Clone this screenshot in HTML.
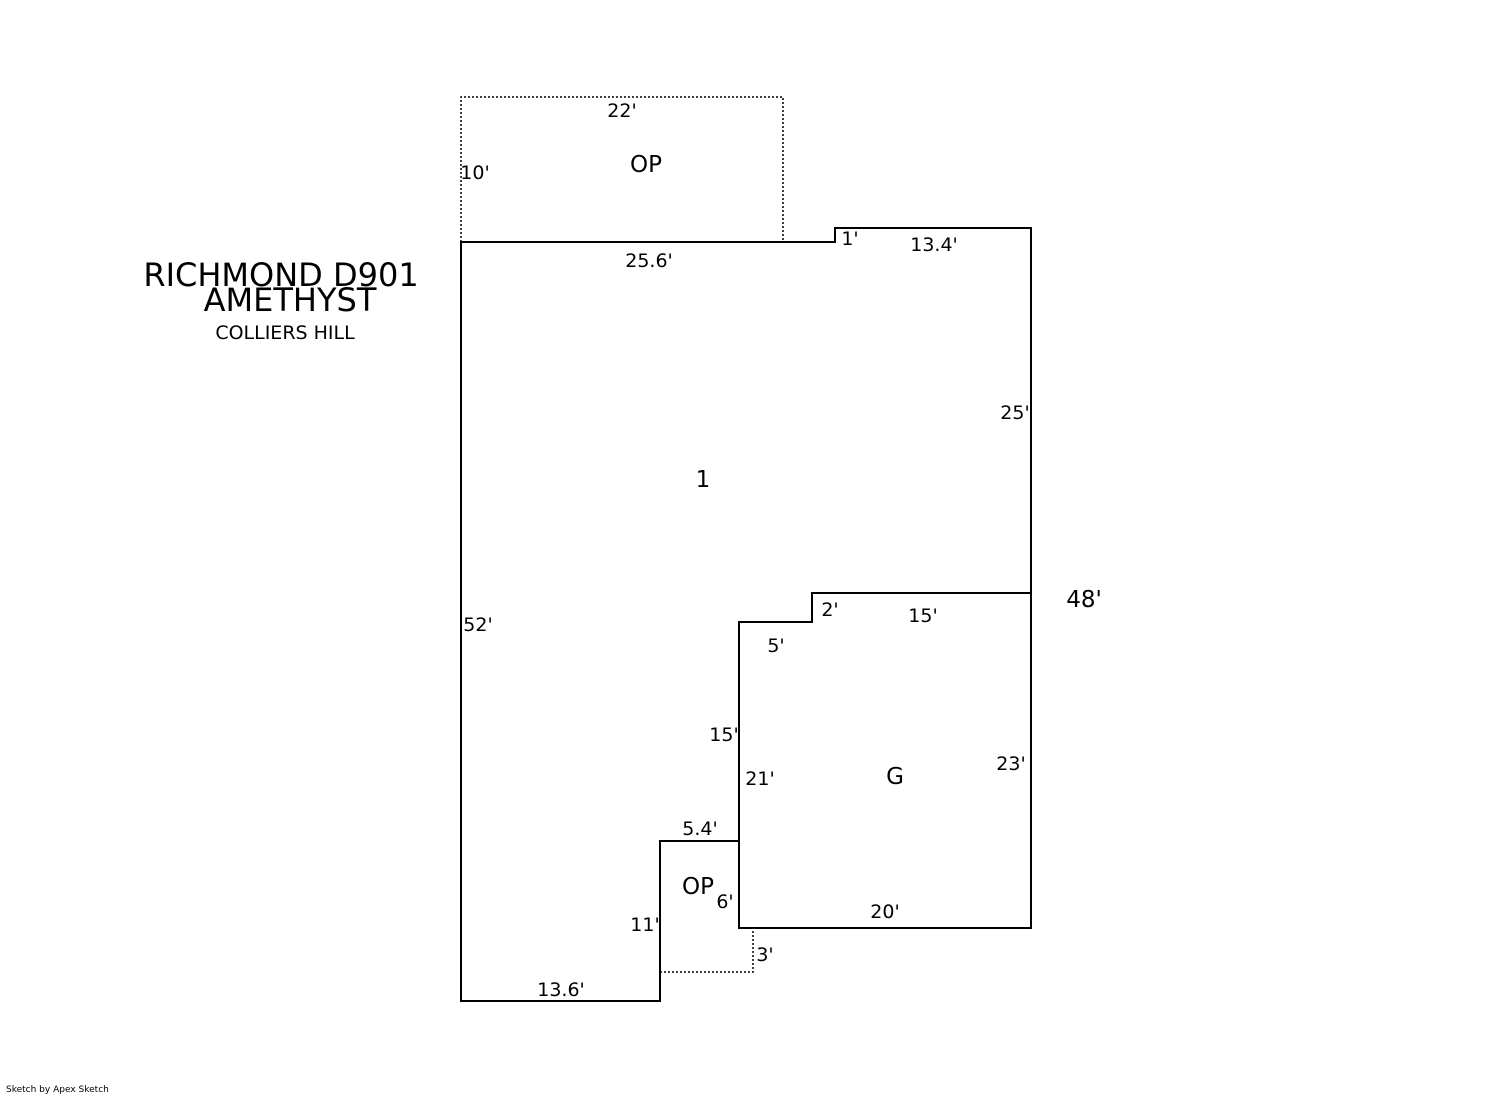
<!DOCTYPE html>
<html><head><meta charset="utf-8"><style>
html,body{margin:0;padding:0;background:#fff;}
svg{display:block;}
text{font-family:"DejaVu Sans","Liberation Sans",sans-serif;fill:#000;}
</style></head><body>
<svg width="1492" height="1094" viewBox="0 0 1492 1094" xmlns="http://www.w3.org/2000/svg">
<g fill="none" stroke="#000" stroke-width="2">
<path d="M461,242 L835,242 L835,228 L1031,228 L1031,593 L812,593 L812,622 L739,622 L739,841 L660,841 L660,1001 L461,1001 Z"/>
<path d="M739,841 L739,928 L1031,928 L1031,593"/>
</g>
<g fill="none" stroke="#000" stroke-width="1.5" stroke-dasharray="2,2">
<path d="M461,242 L461,97 L783,97 L783,242"/>
<path d="M660,972 L753,972 L753,928"/>
</g>
<g font-size="32" text-anchor="middle">
<text x="281" y="286">RICHMOND D901</text>
<text x="290" y="311">AMETHYST</text>
</g>
<text x="285" y="339" font-size="19" text-anchor="middle">COLLIERS HILL</text>
<g font-size="23" text-anchor="middle">
<text x="646" y="172">OP</text>
<text x="703" y="487">1</text>
<text x="895" y="784">G</text>
<text x="698" y="894">OP</text>
<text x="1084" y="607">48'</text>
</g>
<g font-size="19" text-anchor="middle">
<text x="622" y="117">22'</text>
<text x="475" y="179">10'</text>
<text x="649" y="267">25.6'</text>
<text x="850" y="245">1'</text>
<text x="934" y="251">13.4'</text>
<text x="1015" y="419">25'</text>
<text x="478" y="631">52'</text>
<text x="830" y="616">2'</text>
<text x="923" y="622">15'</text>
<text x="776" y="652">5'</text>
<text x="724" y="741">15'</text>
<text x="760" y="785">21'</text>
<text x="1011" y="770">23'</text>
<text x="700" y="835">5.4'</text>
<text x="725" y="908">6'</text>
<text x="645" y="931">11'</text>
<text x="765" y="961">3'</text>
<text x="885" y="918">20'</text>
<text x="561" y="996">13.6'</text>
</g>
<text x="6" y="1092" font-size="9">Sketch by Apex Sketch</text>
</svg>
</body></html>
